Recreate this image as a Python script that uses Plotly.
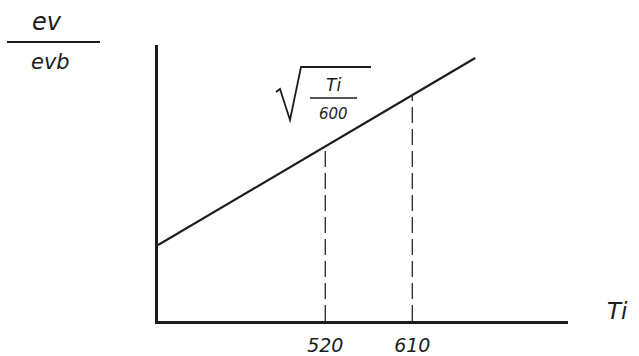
import plotly.graph_objects as go

# Sketch of e_v / e_vb against inlet temperature Ti
line_ti = [347, 675]
line_ratio = [0.275, 0.953]

marker_ti = [520, 610]
marker_ratio = [0.633, 0.819]
marker_labels = ["520", "610"]

W, H = 639, 356
L, R, T, B = 158, 71, 45, 35
PW, PH = W - L - R, H - T - B


def px(x):
    return (x - L) / PW


def py(y):
    return (H - B - y) / PH


ink = "#1c1c1c"
hand = dict(family="DejaVu Sans", color=ink, style="italic")

fig = go.Figure()

fig.add_trace(go.Scatter(
    x=line_ti, y=line_ratio, mode="lines",
    line=dict(color=ink, width=2.2), hoverinfo="skip", showlegend=False,
))

for t, r in zip(marker_ti, marker_ratio):
    fig.add_trace(go.Scatter(
        x=[t, t], y=[0, r], mode="lines",
        line=dict(color="#333333", width=1.4, dash="16px,6px"),
        hoverinfo="skip", showlegend=False,
    ))

annotations = [
    dict(x=px(47), y=py(22), text="ev", font=dict(size=24, **hand)),
    dict(x=px(50), y=py(62), text="evb", font=dict(size=21, **hand)),
    dict(x=px(617), y=py(311), text="Ti", font=dict(size=23, **hand)),
    dict(x=px(333), y=py(85), text="Ti", font=dict(size=17, **hand)),
    dict(x=px(333), y=py(114), text="600", font=dict(size=15, **hand)),
]
for a in annotations:
    a.update(xref="paper", yref="paper", showarrow=False,
             xanchor="center", yanchor="middle")

shapes = [
    # fraction bar of the axis title
    dict(type="line", xref="paper", yref="paper",
         x0=px(7), x1=px(100), y0=py(42), y1=py(42),
         line=dict(color=ink, width=2)),
    # radical sign with its overbar
    dict(type="path", xref="paper", yref="paper",
         path=(f"M {px(276)} {py(92)} L {px(280)} {py(89)} L {px(290)} {py(120)} "
               f"L {px(301)} {py(67)} L {px(371)} {py(67)}"),
         line=dict(color=ink, width=1.8)),
    # fraction bar under the radical
    dict(type="line", xref="paper", yref="paper",
         x0=px(310), x1=px(357), y0=py(98), y1=py(98),
         line=dict(color=ink, width=1.5)),
]

fig.update_layout(
    width=W, height=H,
    margin=dict(l=L, r=R, t=T, b=B),
    paper_bgcolor="white", plot_bgcolor="white",
    annotations=annotations, shapes=shapes,
    xaxis=dict(
        range=[347, 771], showgrid=False, zeroline=False,
        showline=True, linecolor=ink, linewidth=2.5,
        tickvals=marker_ti, ticktext=marker_labels, ticks="",
        ticklabelstandoff=5, automargin=False,
        tickfont=dict(size=19, **hand),
    ),
    yaxis=dict(
        range=[0, 1], showgrid=False, zeroline=False,
        showline=True, linecolor=ink, linewidth=2.5,
        showticklabels=False, ticks="", automargin=False,
    ),
)

fig.write_html("out.html")
